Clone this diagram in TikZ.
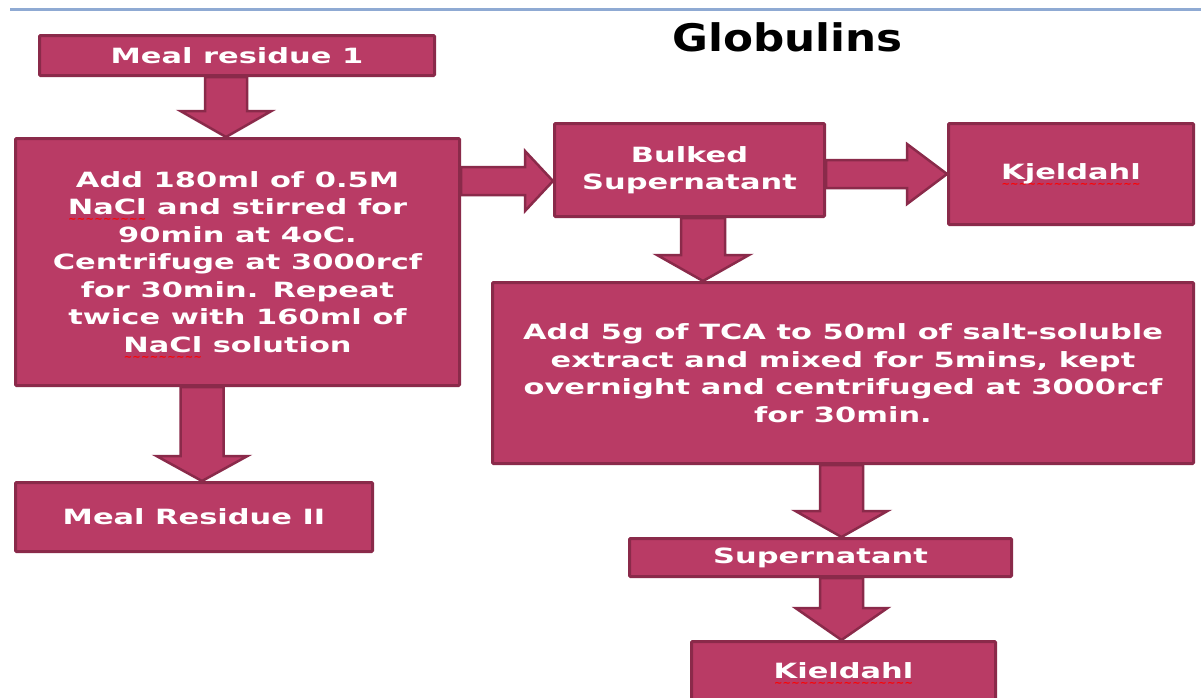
\documentclass[tikz,border=0pt]{standalone}
\usepackage{fontspec}
\usetikzlibrary{calc}
\newfontfamily\boxfont{DejaVu Sans}[FakeStretch=1.45]
\newfontfamily\titlefont{DejaVu Sans}[FakeStretch=1.15]
\newfontfamily\wavefont{DejaVu Sans}
\definecolor{boxfill}{HTML}{B93B65}
\definecolor{boxline}{HTML}{8A2A4A}
\definecolor{topline}{HTML}{8FAAD3}
\newcommand\redsq[1]{\setbox0=\hbox{#1}\rlap{\raisebox{-8pt}[0pt][0pt]{\textcolor{red}{\wavefont\fontsize{10}{10}\selectfont\hbox to \wd0{\xleaders\hbox{\char"223C}\hfill}}}}\box0\relax}
% block arrow down: from, to, centre x, shaft half width, head half width, head length
\newcommand\downblk[6]{%
  \draw[blk] let \p1=(#1.south), \p2=(#2.north) in
  ({(#3-#4)*1pt},\y1) -- ({(#3-#4)*1pt},{\y2+#6pt}) -- ({(#3-#5)*1pt},{\y2+#6pt})
  -- ({#3*1pt},\y2) -- ({(#3+#5)*1pt},{\y2+#6pt}) -- ({(#3+#4)*1pt},{\y2+#6pt})
  -- ({(#3+#4)*1pt},\y1) -- cycle;}
% block arrow right: from, to, centre y, shaft half width, head half width, head length
\newcommand\rightblk[6]{%
  \draw[blk] let \p1=(#1.east), \p2=(#2.west) in
  (\x1,{-(#3-#4)*1pt}) -- ({\x2-#6pt},{-(#3-#4)*1pt}) -- ({\x2-#6pt},{-(#3-#5)*1pt})
  -- (\x2,{-#3*1pt}) -- ({\x2-#6pt},{-(#3+#5)*1pt}) -- ({\x2-#6pt},{-(#3+#4)*1pt})
  -- (\x1,{-(#3+#4)*1pt}) -- cycle;}
\begin{document}
\begin{tikzpicture}[x=1pt,y=-1pt,
  box/.style={draw=boxline, fill=boxfill, line width=3pt, text=white,
    font=\boxfont\bfseries\fontsize{21}{27.5}\selectfont, align=center,
    inner sep=0pt, rounded corners=1pt},
  blk/.style={draw=boxline, fill=boxfill, line width=2.5pt, line join=miter},
  titlestyle/.style={font=\titlefont\bfseries\fontsize{38}{40}\selectfont, text=black, inner sep=0pt}]
\useasboundingbox (0,0) rectangle (1201,697);
\clip (0,0) rectangle (1201,697);
\fill[white] (0,0) rectangle (1201,697);
\draw[topline, line width=3pt] (10,9) -- (1201,9);
\node[titlestyle] (title) at (787.5,37.5) {Globulins};

\node[box, minimum width=395pt, minimum height=40pt] (m1) at (237,55.5) {Meal residue 1};
\node[box, minimum width=444pt, minimum height=247pt] (b2) at (237.5,262)
  {Add 180ml of 0.5M\\ \redsq{NaCl} and stirred for\\ 90min at 4oC.\\ Centrifuge at 3000rcf\\ for 30min. Repeat\\ twice with 160ml of\\ \redsq{NaCl} solution};
\node[box, minimum width=270pt, minimum height=93pt] (bulk) at (689.5,170) {Bulked\\Supernatant};
\node[box, minimum width=245pt, minimum height=101pt] (kj1) at (1071,174) {\redsq{Kjeldahl}};
\node[box, minimum width=701pt, minimum height=181pt] (tca) at (843,373)
  {Add 5g of TCA to 50ml of salt-soluble\\ extract and mixed for 5mins, kept\\ overnight and centrifuged  at 3000rcf\\ for 30min.};
\node[box, minimum width=382pt, minimum height=38pt] (sup) at (820.5,557.5) {Supernatant};
\node[box, minimum width=304pt, minimum height=62pt] (kj2) at (843.5,672.5) {\raisebox{3pt}{\redsq{Kieldahl}}};
\node[box, minimum width=357pt, minimum height=69pt] (m2) at (194,517) {Meal Residue II};

\downblk{m1}{b2}{226}{21}{45.5}{26}
\rightblk{b2}{bulk}{181}{14}{30}{28}
\rightblk{bulk}{kj1}{174}{14}{30}{40}
\downblk{bulk}{tca}{703}{22}{46}{26}
\downblk{tca}{sup}{841.5}{21.5}{46}{26}
\downblk{sup}{kj2}{841.5}{21.5}{46}{32}
\downblk{b2}{m2}{202}{21.5}{45.5}{25}
\end{tikzpicture}
\end{document}
